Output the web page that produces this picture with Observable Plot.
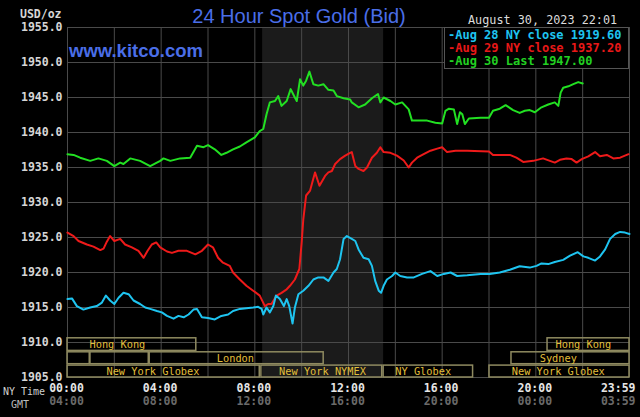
<!DOCTYPE html>
<html><head><meta charset="utf-8">
<script src="https://cdn.jsdelivr.net/npm/d3@7"></script>
<script src="https://cdn.jsdelivr.net/npm/@observablehq/plot@0.6"></script>
<style>
html,body{margin:0;padding:0;background:#000;}
#chart{width:640px;height:417px;overflow:hidden;position:relative;}
</style></head><body><div id="chart"></div>
<script>
// ---- data: [hour (NY time), price] ----
const aug28 = [[0,1916.2],[0.19,1916.3],[0.4,1915.2],[0.68,1914.7],[0.97,1915.0],[1.25,1915.2],[1.47,1915.7],[1.64,1916.7],[1.82,1916.0],[2.0,1915.5],[2.18,1916.4],[2.39,1917.1],[2.61,1916.9],[2.82,1916.0],[3.1,1915.5],[3.32,1915.0],[3.53,1914.8],[3.82,1914.5],[4.03,1914.3],[4.25,1913.8],[4.53,1913.4],[4.74,1913.8],[4.96,1913.6],[5.17,1914.0],[5.38,1914.7],[5.53,1914.8],[5.74,1913.6],[6.0,1913.5],[6.29,1913.3],[6.57,1913.8],[6.86,1914.0],[7.07,1914.5],[7.36,1914.8],[7.64,1914.9],[7.93,1915.0],[8.14,1915.1],[8.29,1914.8],[8.36,1914.0],[8.5,1915.0],[8.64,1914.3],[8.79,1915.2],[8.9,1916.7],[9.07,1916.2],[9.24,1915.2],[9.36,1916.2],[9.47,1915.2],[9.61,1912.7],[9.71,1915.0],[9.86,1916.9],[10.07,1917.4],[10.29,1918.1],[10.5,1919.0],[10.71,1919.3],[10.93,1919.3],[11.14,1918.8],[11.36,1920.0],[11.5,1920.5],[11.64,1921.9],[11.79,1924.8],[11.93,1925.2],[12.14,1924.8],[12.29,1924.5],[12.43,1923.3],[12.64,1922.1],[12.86,1921.9],[13.0,1920.95],[13.14,1918.8],[13.29,1917.4],[13.39,1917.1],[13.5,1918.1],[13.64,1919.0],[13.86,1919.5],[14.0,1920.0],[14.21,1919.5],[14.5,1919.3],[14.79,1919.3],[15.14,1919.8],[15.5,1920.2],[15.79,1919.5],[16.07,1919.8],[16.36,1920.0],[16.64,1919.5],[17.07,1919.6],[17.64,1919.8],[18.03,1919.8],[18.46,1920.0],[18.89,1920.4],[19.31,1920.9],[19.74,1920.7],[20.03,1920.95],[20.24,1921.3],[20.53,1921.2],[20.81,1921.5],[21.17,1921.8],[21.46,1922.4],[21.79,1922.9],[22.03,1922.3],[22.24,1922.1],[22.53,1921.7],[22.74,1922.3],[22.96,1923.3],[23.17,1924.8],[23.39,1925.5],[23.6,1925.8],[23.81,1925.7],[24.0,1925.5]];
const aug29 = [[0,1925.7],[0.26,1925.2],[0.47,1924.5],[0.83,1924.0],[1.11,1923.7],[1.4,1923.2],[1.54,1923.4],[1.68,1924.4],[1.82,1925.2],[2.0,1924.5],[2.25,1924.8],[2.46,1924.0],[2.75,1923.6],[3.03,1923.1],[3.25,1922.1],[3.42,1923.1],[3.6,1924.0],[3.79,1924.3],[3.96,1923.6],[4.25,1923.0],[4.46,1922.8],[4.74,1923.1],[5.1,1923.1],[5.46,1922.6],[5.74,1923.1],[6.0,1924.0],[6.21,1923.6],[6.43,1922.1],[6.64,1921.4],[6.93,1920.95],[7.07,1920.0],[7.36,1919.0],[7.64,1918.1],[7.93,1917.4],[8.21,1916.7],[8.43,1915.2],[8.57,1915.5],[8.71,1915.5],[8.93,1916.7],[9.14,1917.1],[9.36,1917.6],[9.5,1918.1],[9.71,1919.0],[9.9,1920.5],[10.0,1924.3],[10.07,1927.6],[10.19,1931.0],[10.36,1931.7],[10.57,1934.3],[10.76,1932.4],[11.0,1933.8],[11.14,1934.3],[11.29,1934.5],[11.43,1935.5],[11.64,1936.2],[11.86,1936.7],[12.07,1937.1],[12.14,1937.2],[12.29,1935.2],[12.43,1934.8],[12.64,1934.5],[12.79,1935.0],[13.0,1936.4],[13.21,1937.1],[13.36,1937.9],[13.5,1937.2],[13.79,1937.1],[14.07,1936.7],[14.36,1936.0],[14.57,1935.0],[14.71,1935.7],[14.93,1936.4],[15.21,1936.9],[15.5,1937.4],[15.79,1937.7],[16.0,1937.9],[16.21,1937.2],[16.57,1937.4],[17.07,1937.4],[18.0,1937.3],[18.17,1936.8],[18.46,1936.8],[18.89,1936.8],[19.17,1936.4],[19.46,1935.8],[19.89,1935.95],[20.31,1936.3],[20.6,1935.95],[20.81,1935.7],[21.03,1936.1],[21.31,1936.3],[21.53,1936.2],[21.74,1935.7],[21.96,1936.2],[22.24,1936.6],[22.53,1937.2],[22.74,1936.6],[23.03,1936.8],[23.31,1936.3],[23.6,1936.4],[23.96,1936.9]];
const aug30 = [[0,1936.9],[0.26,1936.8],[0.54,1936.4],[0.97,1935.95],[1.32,1936.3],[1.68,1935.95],[2.0,1935.2],[2.25,1935.7],[2.39,1935.5],[2.68,1936.3],[3.1,1935.95],[3.53,1935.2],[3.96,1935.95],[4.1,1936.3],[4.39,1935.95],[4.81,1936.3],[5.24,1936.4],[5.53,1938.1],[5.81,1937.9],[6.0,1938.2],[6.29,1937.6],[6.57,1936.8],[6.79,1937.1],[7.07,1937.6],[7.36,1938.0],[7.64,1938.6],[8.0,1939.3],[8.21,1940.2],[8.36,1940.5],[8.5,1942.6],[8.64,1944.3],[8.86,1944.5],[9.0,1945.2],[9.14,1943.8],[9.36,1944.5],[9.53,1946.2],[9.71,1945.0],[9.79,1944.5],[9.93,1947.6],[10.07,1946.7],[10.19,1947.4],[10.33,1948.7],[10.5,1946.9],[10.71,1946.7],[10.93,1946.9],[11.14,1946.1],[11.36,1946.0],[11.5,1945.2],[11.79,1944.9],[12.07,1944.7],[12.14,1944.3],[12.43,1943.6],[12.71,1944.0],[13.0,1944.9],[13.26,1945.5],[13.36,1944.3],[13.5,1945.0],[13.79,1944.5],[14.0,1944.0],[14.29,1944.3],[14.57,1943.3],[14.71,1941.7],[15.0,1941.7],[15.36,1941.7],[15.71,1941.4],[16.0,1941.3],[16.14,1943.1],[16.29,1943.4],[16.5,1943.3],[16.64,1941.2],[16.76,1942.9],[16.86,1942.6],[16.97,1941.2],[17.14,1942.0],[17.64,1942.1],[18.0,1942.1],[18.17,1943.1],[18.46,1943.4],[18.71,1943.9],[19.03,1943.2],[19.31,1942.8],[19.53,1943.1],[19.74,1943.2],[19.96,1942.9],[20.24,1943.6],[20.53,1944.0],[20.81,1944.3],[20.96,1943.8],[21.06,1945.7],[21.17,1946.4],[21.39,1946.6],[21.6,1946.9],[21.81,1947.2],[22.0,1947.0]];

const yTicks = [1905,1910,1915,1920,1925,1930,1935,1940,1945,1950,1955];
const xGrid = [0,2,4,6,8,10,12,14,16,18,20,22,24];
const xLabelHours = [0,4,8,12,16,20];
const nyTimeLabels = ["00:00","04:00","08:00","12:00","16:00","20:00"];
const gmtLabels = ["04:00","08:00","12:00","16:00","20:00","00:00"];
const endLabel = [{h:24, ny:"23:59", gmt:"03:59"}];
const nymexShade = [{start:8.333, end:13.5}];
const sessionRows = {1:[1908.8,1910.6], 2:[1906.9,1908.6], 3:[1905.0,1906.7]};
const sessions = [
  {name:"Hong Kong", row:1, start:0, end:5.5, labelAt:2.13},
  {name:"", row:2, start:0, end:0.95},
  {name:"", row:2, start:0.98, end:3.47},
  {name:"London", row:2, start:3.51, end:10.94, labelAt:7.17},
  {name:"New York Globex", row:3, start:0, end:8.21, labelAt:3.65},
  {name:"New York NYMEX", row:3, start:8.28, end:13.44, labelAt:10.89},
  {name:"NY Globex", row:3, start:13.5, end:17.32, labelAt:15.19},
  {name:"New York Globex", row:3, start:18.02, end:24, labelAt:20.96},
  {name:"Sydney", row:2, start:18.96, end:24, labelAt:20.96},
  {name:"Hong Kong", row:1, start:20.5, end:24, labelAt:22.03}
];
const legendLabels = ["-Aug 28 NY close 1919.60","-Aug 29 NY close 1937.20","-Aug 30 Last 1947.00"];
const colors = ["#1ec4f0","#ee1a1a","#22e022"];
const legendColors = ["#1ec4f0","#e81818","#22d022"];

const toRows = a => a.map(([h,v]) => ({h, v}));
const xLabels = xLabelHours.map((h,i) => ({h, ny:nyTimeLabels[i], gmt:gmtLabels[i]}));
const MONO = "DejaVu Sans Mono";

const chart = Plot.plot({
  width: 640, height: 417,
  marginLeft: 67, marginRight: 11, marginTop: 27, marginBottom: 40,
  x: {domain:[0,24], axis:null},
  y: {domain:[1905,1955]},
  style: {background:"#000", color:"#ddd", overflow:"visible"},
  marks: [
    Plot.rect(nymexShade, {x1:"start", x2:"end", y1:1905, y2:1955, fill:"#1b1b1b"}),
    Plot.ruleX(xGrid, {stroke:"#4a4a4a", strokeWidth:1}),
    Plot.ruleY(yTicks, {stroke:"#4a4a4a", strokeWidth:1}),
    Plot.rect(sessions, {x1:"start", x2:"end", y1:d=>sessionRows[d.row][0], y2:d=>sessionRows[d.row][1], fill:"none", stroke:"#8f8a60", strokeWidth:1.5}),
    Plot.text(sessions.filter(d=>d.name), {x:"labelAt", y:d=>(sessionRows[d.row][0]+sessionRows[d.row][1])/2, text:"name", fill:"#e2bf3a", fontFamily:MONO, fontSize:10.3}),
    Plot.line(toRows(aug30), {x:"h", y:"v", stroke:colors[2], strokeWidth:2}),
    Plot.line(toRows(aug29), {x:"h", y:"v", stroke:colors[1], strokeWidth:2}),
    Plot.line(toRows(aug28), {x:"h", y:"v", stroke:colors[0], strokeWidth:2}),
    Plot.axisY(yTicks, {label:null, tickSize:0, tickPadding:5, tickFormat:d3.format(".1f"), fontFamily:MONO, fontSize:11.5, fontWeight:"bold", fill:"#d6d6d6"}),
    Plot.text(xLabels, {x:"h", text:"ny", frameAnchor:"bottom", dy:14, dx:-1, fontFamily:MONO, fontSize:11.5, fontWeight:"bold", fill:"#e6e6e6"}),
    Plot.text(xLabels, {x:"h", text:"gmt", frameAnchor:"bottom", dy:27, dx:-1, fontFamily:MONO, fontSize:11.5, fontWeight:"bold", fill:"#6a6a6a"}),
    Plot.text(endLabel, {x:"h", text:"ny", frameAnchor:"bottom", dy:14, dx:6, textAnchor:"end", fontFamily:MONO, fontSize:11.5, fontWeight:"bold", fill:"#e6e6e6"}),
    Plot.text(endLabel, {x:"h", text:"gmt", frameAnchor:"bottom", dy:27, dx:6, textAnchor:"end", fontFamily:MONO, fontSize:11.5, fontWeight:"bold", fill:"#6a6a6a"})
  ]
});
document.getElementById("chart").appendChild(chart);

// overlay texts
const svg = d3.select(chart);
const add = (x, y, t, opts) => {
  const el = svg.append("text").attr("x", x).attr("y", y).attr("text-anchor", opts.anchor || "start")
    .attr("font-family", opts.family || MONO).attr("font-size", opts.size)
    .attr("font-weight", opts.weight || "normal").attr("fill", opts.fill).text(t);
  return el;
};
add(299, 22.5, "24 Hour Spot Gold (Bid)", {anchor:"middle", family:"Liberation Sans, Arial, sans-serif", size:20, fill:"#4a6ee8"});
add(69, 56.5, "www.kitco.com", {family:"Liberation Sans, Arial, sans-serif", size:18.5, weight:"bold", fill:"#4a6ee8"});
add(20, 17.5, "USD/oz", {size:11.5, weight:"bold", fill:"#d6d6d6"});
add(468, 23.5, "August 30, 2023 22:01", {size:11.8, fill:"#dcdcdc"});
add(3, 395, "NY Time", {size:10, fill:"#cfcfcf"});
add(11, 408, "GMT", {size:10, fill:"#bdbdbd"});
svg.append("rect").attr("x",444.5).attr("y",27.5).attr("width",184).attr("height",41)
  .attr("fill","#000").attr("stroke","#555");
legendLabels.forEach((t,i) => {
  add(448, 38.5 + i*13, t, {size:12, weight:"bold", fill:legendColors[i]});
});
</script>
</body></html>
